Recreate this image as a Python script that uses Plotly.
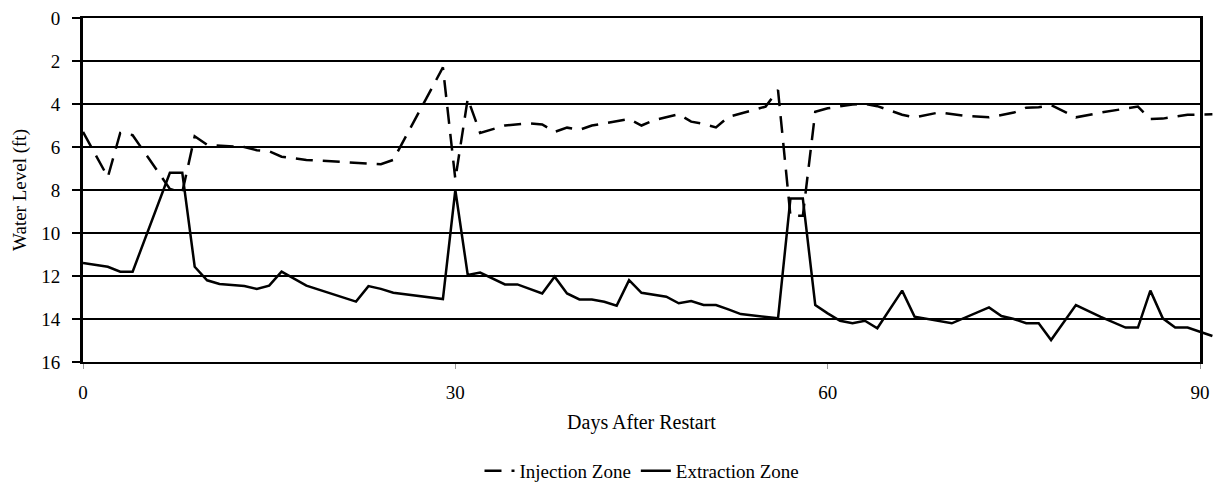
import plotly.graph_objects as go

# ---- data ----
inj_days = [0, 2, 3, 4, 7, 8, 9, 10, 13, 14, 15, 16, 18, 21, 22, 23, 24, 25, 29, 30,
            31, 32, 34, 36, 37, 38, 39, 40, 41, 42, 44, 45, 46, 48, 49, 50, 51, 52, 53,
            55, 56, 57, 58, 59, 60, 61, 62, 63, 64, 66, 67, 69, 71, 73, 75, 76, 77, 78,
            80, 82, 84, 85, 86, 87, 89, 91]
inj_level = [5.3, 7.4, 5.35, 5.45, 7.95, 8.1, 5.5, 5.9, 6.0, 6.15, 6.2, 6.45, 6.6, 6.7,
             6.72, 6.76, 6.8, 6.6, 2.3, 7.5, 3.75, 5.35, 5.0, 4.9, 4.95, 5.3, 5.1, 5.2,
             5.0, 4.9, 4.7, 5.0, 4.75, 4.48, 4.82, 4.93, 5.09, 4.6, 4.43, 4.12, 3.35,
             9.2, 9.2, 4.36, 4.2, 4.1, 4.02, 4.0, 4.1, 4.5, 4.62, 4.39, 4.55, 4.62, 4.4,
             4.17, 4.15, 4.05, 4.62, 4.4, 4.2, 4.12, 4.7, 4.68, 4.5, 4.48]

ext_days = [0, 2, 3, 4, 7, 8, 9, 10, 11, 13, 14, 15, 16, 18, 22, 23, 24, 25, 29, 30,
            31, 32, 34, 35, 37, 38, 39, 40, 41, 42, 43, 44, 45, 47, 48, 49, 50, 51, 52,
            53, 56, 57, 58, 59, 60, 61, 62, 63, 64, 66, 67, 70, 73, 74, 75, 76, 77, 78,
            80, 82, 84, 85, 86, 87, 88, 89, 91]
ext_level = [11.4, 11.57, 11.8, 11.8, 7.2, 7.2, 11.57, 12.2, 12.37, 12.47, 12.6, 12.45,
             11.8, 12.45, 13.19, 12.47, 12.6, 12.78, 13.07, 8.0, 11.95, 11.84, 12.39,
             12.39, 12.81, 12.03, 12.81, 13.09, 13.09, 13.2, 13.38, 12.19, 12.78, 12.96,
             13.27, 13.16, 13.35, 13.35, 13.55, 13.77, 13.97, 8.4, 8.4, 13.35, 13.74,
             14.08, 14.2, 14.08, 14.43, 12.68, 13.89, 14.2, 13.46, 13.86, 14.0, 14.2,
             14.2, 14.98, 13.35, 13.9, 14.4, 14.4, 12.68, 13.97, 14.4, 14.4, 14.79]

x_ticks = [0, 30, 60, 90]
y_ticks = [0, 2, 4, 6, 8, 10, 12, 14, 16]

# ---- geometry ----
W, H = 1215, 486
ML, MR, MT, MB = 83, 0, 18, 124
paper_w = W - ML - MR
plot_w = 1117  # pixel width of the 0..90 day frame
dom_frac = plot_w / paper_w
x_max_full = 90 / dom_frac  # data subplot spans to the right edge of the page

FONT = "Liberation Serif, Times New Roman, serif"

fig = go.Figure()
# invisible copy on the framed subplot so that its axes/grid are rendered
fig.add_trace(go.Scatter(
    x=ext_days, y=ext_level, mode="lines", line=dict(width=0, color="rgba(0,0,0,0)"),
    showlegend=False, hoverinfo="skip", xaxis="x", yaxis="y"))
fig.add_trace(go.Scatter(
    x=inj_days, y=inj_level, name="Injection Zone", mode="lines",
    line=dict(color="black", width=2.5, dash="17px,10px"),
    xaxis="x2", yaxis="y2"))
fig.add_trace(go.Scatter(
    x=ext_days, y=ext_level, name="Extraction Zone", mode="lines",
    line=dict(color="black", width=2.5),
    xaxis="x2", yaxis="y2"))

fig.update_layout(
    width=W, height=H,
    margin=dict(l=ML, r=MR, t=MT, b=MB, autoexpand=False),
    paper_bgcolor="white", plot_bgcolor="rgba(0,0,0,0)",
    font=dict(family=FONT, size=19, color="black"),
    showlegend=True,
    legend=dict(orientation="h", x=(642 - ML) / paper_w, xanchor="center",
                y=(362 - 471) / (H - MT - MB), yanchor="middle",
                font=dict(size=19, family=FONT), bgcolor="rgba(0,0,0,0)",
                traceorder="normal"),
    xaxis=dict(domain=[0, dom_frac], range=[0, 90], tickvals=x_ticks,
               ticks="outside", ticklen=5, tickwidth=1, tickcolor="#999999",
               showline=True, mirror=True, linecolor="black", linewidth=2,
               showgrid=False, zeroline=False, ticklabelstandoff=7,
               tickfont=dict(size=19), automargin=False,
               title=dict(text="Days After Restart", font=dict(size=20), standoff=13)),
    yaxis=dict(domain=[0, 1], range=[16, 0], tickvals=y_ticks,
               ticks="outside", ticklen=8, tickwidth=2, tickcolor="black",
               showline=True, mirror=True, linecolor="black", linewidth=3,
               showgrid=True, gridcolor="black", gridwidth=2, zeroline=False,
               ticklabelstandoff=8, tickfont=dict(size=19), automargin=False,
               title=dict(text="Water Level (ft)", font=dict(size=19), standoff=10)),
    xaxis2=dict(domain=[0, 1], range=[0, x_max_full], anchor="y2", visible=False,
                showgrid=False, zeroline=False),
    yaxis2=dict(domain=[0, 1], range=[16, 0], anchor="x2", visible=False,
                showgrid=False, zeroline=False),
)

fig.write_html("out.html", config={"displayModeBar": False},
               post_script="document.body.style.margin='0';document.body.style.overflow='hidden';")
